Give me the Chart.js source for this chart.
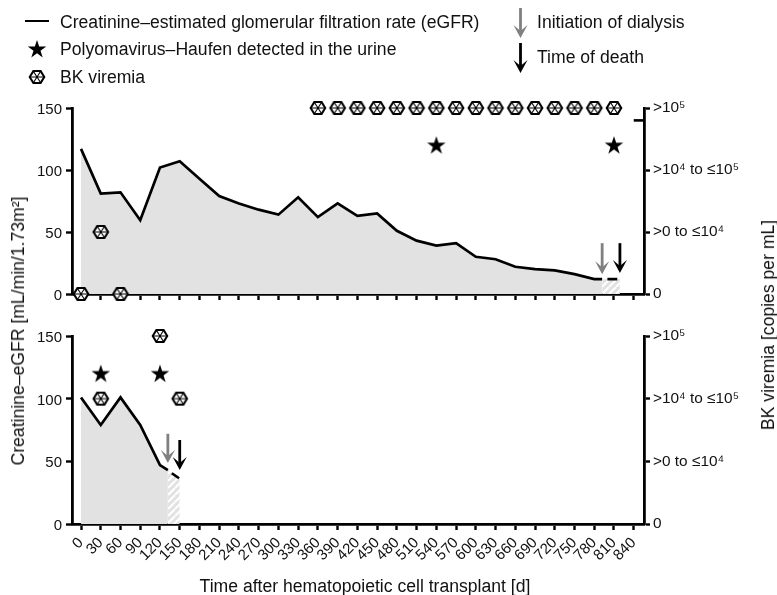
<!DOCTYPE html>
<html><head><meta charset="utf-8">
<script src="https://cdn.jsdelivr.net/npm/chart.js@4"></script>
<style>
html,body{margin:0;padding:0;background:#fff;width:777px;height:595px;overflow:hidden;font-family:"Liberation Sans",Arial,sans-serif;color:#111}
canvas.c{position:absolute;left:0}
.t{position:absolute;white-space:nowrap;font-size:17.6px;line-height:20px;transform:translateY(-50%)}
.r{position:absolute;white-space:nowrap;font-size:17.6px;line-height:20px;transform:translate(-50%,-50%) rotate(-90deg)}
.m{position:absolute;transform:translate(-50%,-50%)}
svg.a{position:absolute;overflow:visible}
</style></head><body>
<canvas class="c" id="top" style="top:0;width:777px;height:320px"></canvas>
<canvas class="c" id="bot" style="top:320px;width:777px;height:275px"></canvas>
<div id="lg"></div>
<script>
// ---- data ----
const xTicks=[0,30,60,90,120,150,180,210,240,270,300,330,360,390,420,450,480,510,540,570,600,630,660,690,720,750,780,810,840];
const yTicks=[0,50,100,150];
const rightLabels=['0','>0 to ≤10⁴','>10⁴ to ≤10⁵','>10⁵'];
const topDays=[0,30,60,90,120,150,180,210,240,270,300,330,360,390,420,450,480,510,540,570,600,630,660,690,720,750,780,792];
const topEgfr=[117,81,82,59.5,102,107,93,79,73,68,64,78,62,73,63,65,51,43,39,41,30,28,22,20,19,16,12,12];
const topDashDays=[800,815];const topDashEgfr=[12,12];
const topHatchDays=[792,819];const topHatchEgfr=[12,12];
const topStarDays=[540,810];const topStarVals=[120,120];
const topVirDays=[0,30,60,360,390,420,450,480,510,540,570,600,630,660,690,720,750,780,810];
const topVirVals=[0,50,0,150,150,150,150,150,150,150,150,150,150,150,150,150,150,150,150];
const topStrayDays=[840,856];const topStrayVals=[140,140];
const topArrowDays=[792,819];const topArrowFrom=[41,41];const topArrowTo=[16,17];
const botDays=[0,30,60,90,120,132];
const botEgfr=[101,79,101,79,47,43];
const botDashDays=[138,149];const botDashEgfr=[40.5,36.5];
const botHatchDays=[132,150];const botHatchEgfr=[43,36.5];
const botStarDays=[30,120];const botStarVals=[120,120];
const botVirDays=[30,120,150];const botVirVals=[100,150,100];
const botArrowDays=[132,150];const botArrowFrom=[72,67];const botArrowTo=[48.6,43];
const arrowColors=['#808080','#000'];
const legendLabels=['Creatinine–estimated glomerular filtration rate (eGFR)','Polyomavirus–Haufen detected in the urine','BK viremia'];
const arrowLabels=['Initiation of dialysis','Time of death'];
const xTitle='Time after hematopoietic cell transplant [d]';
const yLeftTitle='Creatinine–eGFR [mL/min/1.73m²]';
const yRightTitle='BK viremia [copies per mL]';

// ---- marker images ----
function starImg(){const c=document.createElement('canvas');c.width=c.height=20;const g=c.getContext('2d');g.translate(10,10.6);g.beginPath();
 for(let i=0;i<10;i++){const r=i%2?3.7:9.7,a=-Math.PI/2+i*Math.PI/5;g.lineTo(r*Math.cos(a),r*Math.sin(a));}
 g.closePath();g.fillStyle='#000';g.fill();return c;}
function hexImg(){const c=document.createElement('canvas');c.width=c.height=20;const g=c.getContext('2d');g.translate(10,10);
 g.beginPath();for(let i=0;i<6;i++){const a=i*Math.PI/3;g.lineTo(7.3*Math.cos(a),6.8*Math.sin(a));}
 g.closePath();g.fillStyle='#fff';g.fill();g.strokeStyle='#000';g.lineWidth=2;g.stroke();
 g.lineWidth=1.1;g.beginPath();for(let i=0;i<3;i++){const a=i*Math.PI/3;g.moveTo(7*Math.cos(a),6.4*Math.sin(a));g.lineTo(-7*Math.cos(a),-6.4*Math.sin(a));}
 g.stroke();return c;}
const star=starImg(),hex=hexImg();
function hatch(){const c=document.createElement('canvas');c.width=c.height=7;const g=c.getContext('2d');g.fillStyle='#e2e2e2';g.fillRect(0,0,7,7);
 g.strokeStyle='#fff';g.lineWidth=2;g.beginPath();for(let i=-7;i<=14;i+=7){g.moveTo(i,7);g.lineTo(i+7,0);}g.stroke();return g.createPattern(c,'repeat');}
const pts=(a,b)=>a.map((x,i)=>({x,y:b[i]}));

function head(g,x,y){g.beginPath();g.moveTo(x,y);g.lineTo(x-7,y-13);g.lineTo(x,y-7);g.lineTo(x+7,y-13);g.closePath();g.fill();}
const arrowPlugin={id:'arrows',afterDatasetsDraw(ch,_,o){const g=ch.ctx,X=ch.scales.x,Y=ch.scales.y;
 o.days.forEach((d,i)=>{const x=X.getPixelForValue(d),y0=Y.getPixelForValue(o.from[i]),y1=Y.getPixelForValue(o.to[i]);
  g.save();g.strokeStyle=g.fillStyle=arrowColors[i];g.lineWidth=2.8;g.beginPath();g.moveTo(x,y0);g.lineTo(x,y1-6);g.stroke();
  head(g,x,y1);g.restore();});}};

function make(id,o){
 const font={family:'"Liberation Sans",Arial,sans-serif',size:15};
 const fixW=w=>s=>{s.width=w;};
 const setTicks=a=>s=>{s.ticks=a.map(v=>({value:v}));};
 return new Chart(document.getElementById(id),{type:'line',
  data:{datasets:[
   {data:pts(o.days,o.egfr),borderColor:'#000',borderWidth:2.7,pointRadius:0,tension:0,fill:'origin',backgroundColor:'#e2e2e2',order:3,clip:false},
   {data:pts(o.hd,o.hv),borderWidth:0,borderColor:'transparent',pointRadius:0,fill:'origin',backgroundColor:hatch(),order:4},
   {data:pts(o.dd,o.dv),borderColor:'#000',borderWidth:2.7,pointRadius:0,order:2},
   {data:pts(o.sd,o.sv),showLine:false,pointStyle:star,order:1,clip:false},
   {data:pts(o.vd,o.vv),showLine:false,pointStyle:hex,order:0,clip:false},
   ...(o.strayD?[{data:pts(o.strayD,o.strayV),borderColor:'#000',borderWidth:2.6,pointRadius:0,order:5,clip:false}]:[])
  ]},
  options:{responsive:false,animation:false,devicePixelRatio:window.devicePixelRatio||1,
   layout:{padding:{top:o.top,left:0,right:0,bottom:0}},
   plugins:{legend:{display:false},tooltip:{enabled:false},arrows:{days:o.ad,from:o.af,to:o.at}},
   scales:{
    x:{type:'linear',min:-13.7,max:855.6,afterBuildTicks:setTicks(xTicks),afterFit:s=>{s.height=o.xh;},
     border:{display:true,color:'#000',width:2.8},
     grid:{drawOnChartArea:false,drawTicks:true,tickLength:6,tickWidth:2.4,tickColor:'#000'},
     ticks:{display:o.labels,autoSkip:false,maxRotation:45,minRotation:45,padding:4,color:'#111',font,callback:v=>String(v)}},
    y:{min:0,max:150,afterBuildTicks:setTicks(yTicks),afterFit:fixW(72),
     border:{display:true,color:'#000',width:2.8},
     grid:{drawOnChartArea:false,drawTicks:true,tickLength:6,tickWidth:2.4,tickColor:'#000'},
     ticks:{padding:4,color:'#111',font:{...font,lineHeight:0.27},callback:v=>['',String(v)]}},
    y2:{position:'right',min:0,max:150,afterBuildTicks:setTicks(yTicks),afterFit:fixW(133),
     border:{display:true,color:'#000',width:2.8},
     grid:{drawOnChartArea:false,drawTicks:true,tickLength:6,tickWidth:2.4,tickColor:'#000'},
     ticks:{padding:3,color:'#111',font:{...font,size:15.4},callback:v=>rightLabels[yTicks.indexOf(v)]}}
   }},
  plugins:[arrowPlugin]});
}
for(const [id,h] of [['top',320],['bot',275]]){const c=document.getElementById(id);c.width=777;c.height=h;}
make('top',{top:108,xh:26,labels:false,days:topDays,egfr:topEgfr,dd:topDashDays,dv:topDashEgfr,hd:topHatchDays,hv:topHatchEgfr,sd:topStarDays,sv:topStarVals,vd:topVirDays,vv:topVirVals,ad:topArrowDays,af:topArrowFrom,at:topArrowTo,strayD:topStrayDays,strayV:topStrayVals});
make('bot',{top:16,xh:71,labels:true,days:botDays,egfr:botEgfr,dd:botDashDays,dv:botDashEgfr,hd:botHatchDays,hv:botHatchEgfr,sd:botStarDays,sv:botStarVals,vd:botVirDays,vv:botVirVals,ad:botArrowDays,af:botArrowFrom,at:botArrowTo});

// ---- legend and titles as real text ----
const lg=document.getElementById('lg');
function txt(s,x,y,cls){const d=document.createElement('div');d.className=cls||'t';d.textContent=s;d.style.left=x+'px';d.style.top=y+'px';lg.appendChild(d);return d;}
txt(legendLabels[0],60,21.5);txt(legendLabels[1],60,49);txt(legendLabels[2],60,77);
txt(arrowLabels[0],537,21.5);txt(arrowLabels[1],537,57);
const b=document.createElement('div');b.style.cssText='position:absolute;left:25px;top:19.7px;width:24px;height:2.7px;background:#000';lg.appendChild(b);
[[star,37,49],[hex,37,77]].forEach(([im,x,y])=>{const c=document.createElement('canvas');c.width=c.height=20;c.getContext('2d').drawImage(im,0,0);c.className='m';c.style.left=x+'px';c.style.top=y+'px';lg.appendChild(c);});
[['#808080',520.5,8,38],['#000',520.5,43,73]].forEach(([col,x,y0,y1])=>{
 lg.insertAdjacentHTML('beforeend',`<svg class="a" style="left:0;top:0" width="777" height="100"><path d="M${x} ${y0}V${y1-6}" stroke="${col}" stroke-width="2.8" fill="none"/><path d="M${x} ${y1}L${x-7} ${y1-13}L${x} ${y1-7}L${x+7} ${y1-13}Z" fill="${col}"/></svg>`);});
txt(xTitle,365,586).style.transform='translate(-50%,-50%)';
txt(yLeftTitle,18,331,'r');
txt(yRightTitle,768,325,'r');
</script></body></html>
